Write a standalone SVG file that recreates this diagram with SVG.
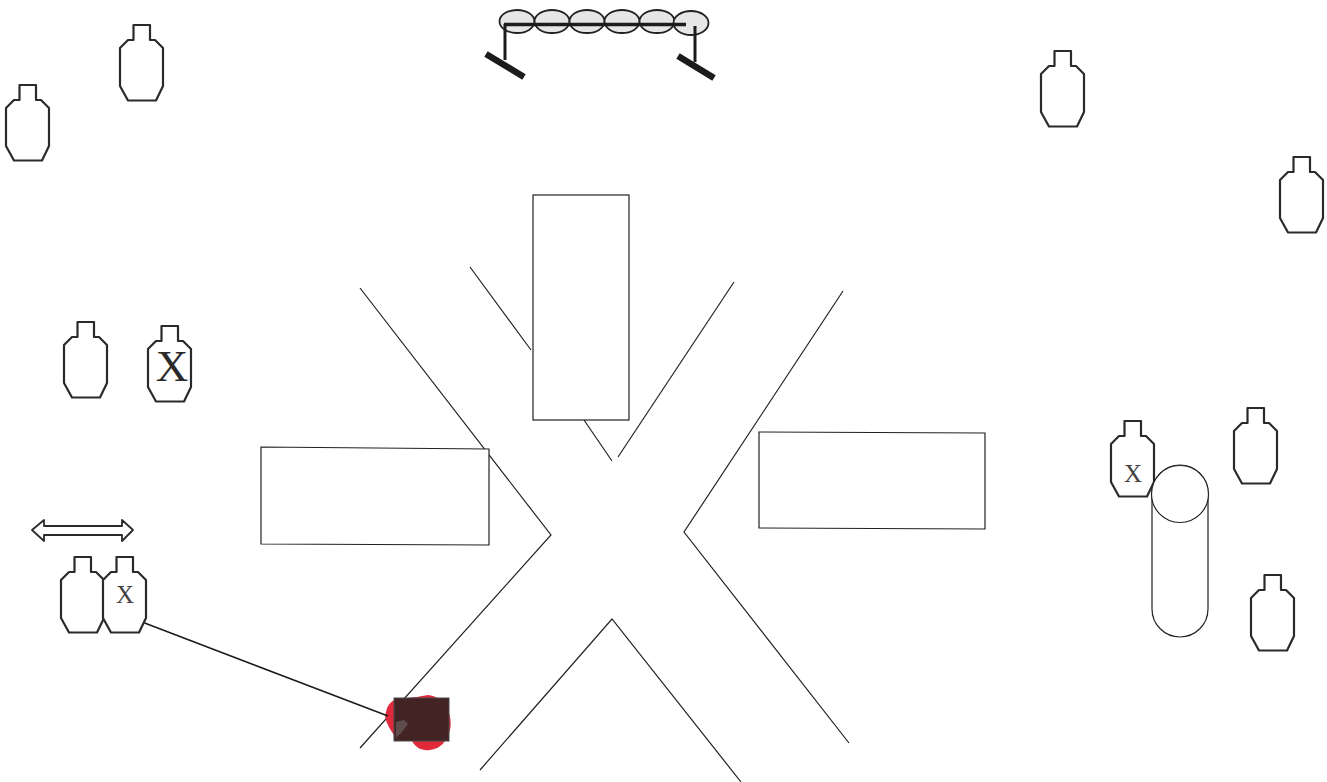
<svg xmlns="http://www.w3.org/2000/svg" width="1327" height="782" viewBox="0 0 1327 782">
<style>
.t{fill:#fff;stroke:#2a2a2a;stroke-width:2.2;stroke-linejoin:round}
.b{fill:#fff;stroke:#222;stroke-width:1.2}
.l{fill:none;stroke:#222;stroke-width:1.2}
.x{font-family:"Liberation Serif",serif;fill:#444;text-anchor:middle}
.e{fill:#e6e6e6;stroke:#222;stroke-width:1.8}
.k{stroke:#1c1c1c;fill:none}
</style>
<defs>
<path id="tg" class="t" d="M13.5,0H30V15H35L43,23V61L36,75.500H8L0,61V23L8,15H13.500Z"/>
</defs>
<rect width="1327" height="782" fill="#fff"/>
<g id="connectors">
<path class="l" d="M360,288L551,535L360,748"/>
<path class="l" d="M470,267L531,350M584,420L612,461"/>
<path class="l" d="M734,282L618,457"/>
<path class="l" d="M843,291L684,532L849,743"/>
<path class="l" d="M480,770L612,619L741,782"/>
</g>
<g id="blood"><path d="M386,712C388,702 394,699 402,698C414,698 420,696 428,695C436,696 442,700 446,706C451,714 452,726 449,733C446,742 440,749 430,750C422,751 416,748 412,741L398,741C392,732 386,724 385,716Z" fill="#e02a3c"/></g>
<g id="box"><rect x="394" y="698" width="55" height="43" fill="#432323" stroke="#4a4a4a" stroke-width="1"/>
<path d="M396,722L404,720L408,724L402,732L396,738Z" fill="#6b6060" opacity=".7"/></g>
<path class="k" stroke-width="1.6" d="M142,622L388,716"/>
<g id="barricade-top">
<ellipse class="e" cx="517" cy="21.500" rx="17.500" ry="11.500"/>
<ellipse class="e" cx="552" cy="21.500" rx="17.500" ry="11.500"/>
<ellipse class="e" cx="587" cy="21.500" rx="17.500" ry="11.500"/>
<ellipse class="e" cx="622" cy="21.500" rx="17.500" ry="11.500"/>
<ellipse class="e" cx="657" cy="21.500" rx="17.500" ry="11.500"/>
<ellipse class="e" cx="691" cy="23" rx="17.500" ry="12"/>
<path class="k" stroke-width="3.500" d="M504,24.500H686"/>
<path class="k" stroke-width="3" d="M505,24V60M695,26V62"/>
<path class="k" stroke-width="6.500" d="M486,54L524,77M678,56L714,78"/>
</g>
<g id="target-1"><use href="#tg" x="120" y="25"/></g>
<g id="target-2"><use href="#tg" x="6" y="85"/></g>
<g id="target-3"><use href="#tg" x="64" y="322"/></g>
<g id="target-4"><use href="#tg" x="148" y="326"/><text class="x" x="172" y="381" font-size="45" style="fill:#2a2a2a">X</text></g>
<g id="target-5"><use href="#tg" x="61" y="557"/></g>
<g id="target-6"><use href="#tg" x="103" y="557"/><text class="x" x="125" y="603" font-size="25">X</text></g>
<g id="target-7"><use href="#tg" x="1041" y="51"/></g>
<g id="target-8"><use href="#tg" x="1280" y="157"/></g>
<g id="target-9"><use href="#tg" x="1234" y="408"/></g>
<g id="target-10"><use href="#tg" x="1111" y="421"/><text class="x" x="1133" y="482" font-size="25">X</text></g>
<g id="target-11"><use href="#tg" x="1251" y="575"/></g>
<g id="arrow"><path class="t" style="stroke-width:1.800" d="M32,530L44,520V526H122V520L133,530L122,541V535H44V541Z"/></g>
<g id="building-1"><rect class="b" x="533" y="195" width="96" height="225"/></g>
<g id="building-2"><path class="b" d="M261,447L489,449V545L261,544Z"/></g>
<g id="building-3"><path class="b" d="M759,432L985,433V529L759,528Z"/></g>
<g id="cylinder">
<rect class="b" x="1152" y="465" width="56" height="172" rx="28" ry="28"/>
<circle class="b" cx="1180" cy="494" r="28.500"/>
</g>
</svg>
